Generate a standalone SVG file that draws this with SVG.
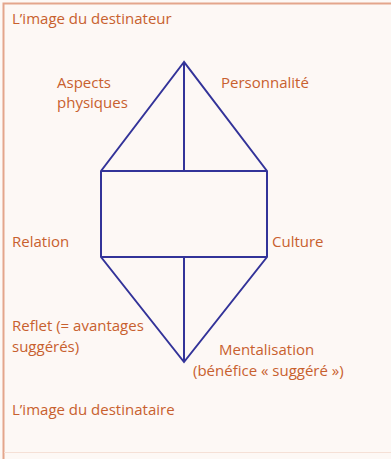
<svg xmlns="http://www.w3.org/2000/svg" width="391" height="459" viewBox="0 0 391 459">
<style>
.t{font-family:"Open Sans","Noto Sans","Liberation Sans",sans-serif;font-size:15px;fill:#c8602e}
.l{stroke:#333399;stroke-width:2;fill:none;stroke-linejoin:miter}
</style>
<rect x="0" y="0" width="391" height="459" fill="#fdf8f5"/>
<path d="M3.5,459 V3.5 H391" fill="none" stroke="#e4a58c" stroke-width="2"/>
<line x1="4" y1="452.5" x2="391" y2="452.5" stroke="#f5e0d6" stroke-width="1"/>
<g id="connectors">
<path class="l" d="M184,62 L101,171 L101,257 L184,362 L267,257 L267,171 Z"/>
<line class="l" x1="101" y1="171" x2="267" y2="171"/>
<line class="l" x1="101" y1="257" x2="267" y2="257"/>
<line class="l" x1="184" y1="62" x2="184" y2="171"/>
<line class="l" x1="184" y1="257" x2="184" y2="362"/>
</g>
<g id="destinateur"><text class="t" x="12" y="24">L’image du destinateur</text></g>
<g id="aspects"><text class="t" x="57" y="88">Aspects</text><text class="t" x="57" y="108">physiques</text></g>
<g id="personnalite"><text class="t" x="221" y="88">Personnalité</text></g>
<g id="relation"><text class="t" x="12" y="247">Relation</text></g>
<g id="culture"><text class="t" x="272" y="247">Culture</text></g>
<g id="reflet"><text class="t" x="12" y="331">Reflet (= avantages</text><text class="t" x="12" y="352">suggérés)</text></g>
<g id="mentalisation"><text class="t" x="219" y="355">Mentalisation</text><text class="t" x="193" y="376">(bénéfice « suggéré »)</text></g>
<g id="destinataire"><text class="t" x="12" y="415">L’image du destinataire</text></g>
</svg>
